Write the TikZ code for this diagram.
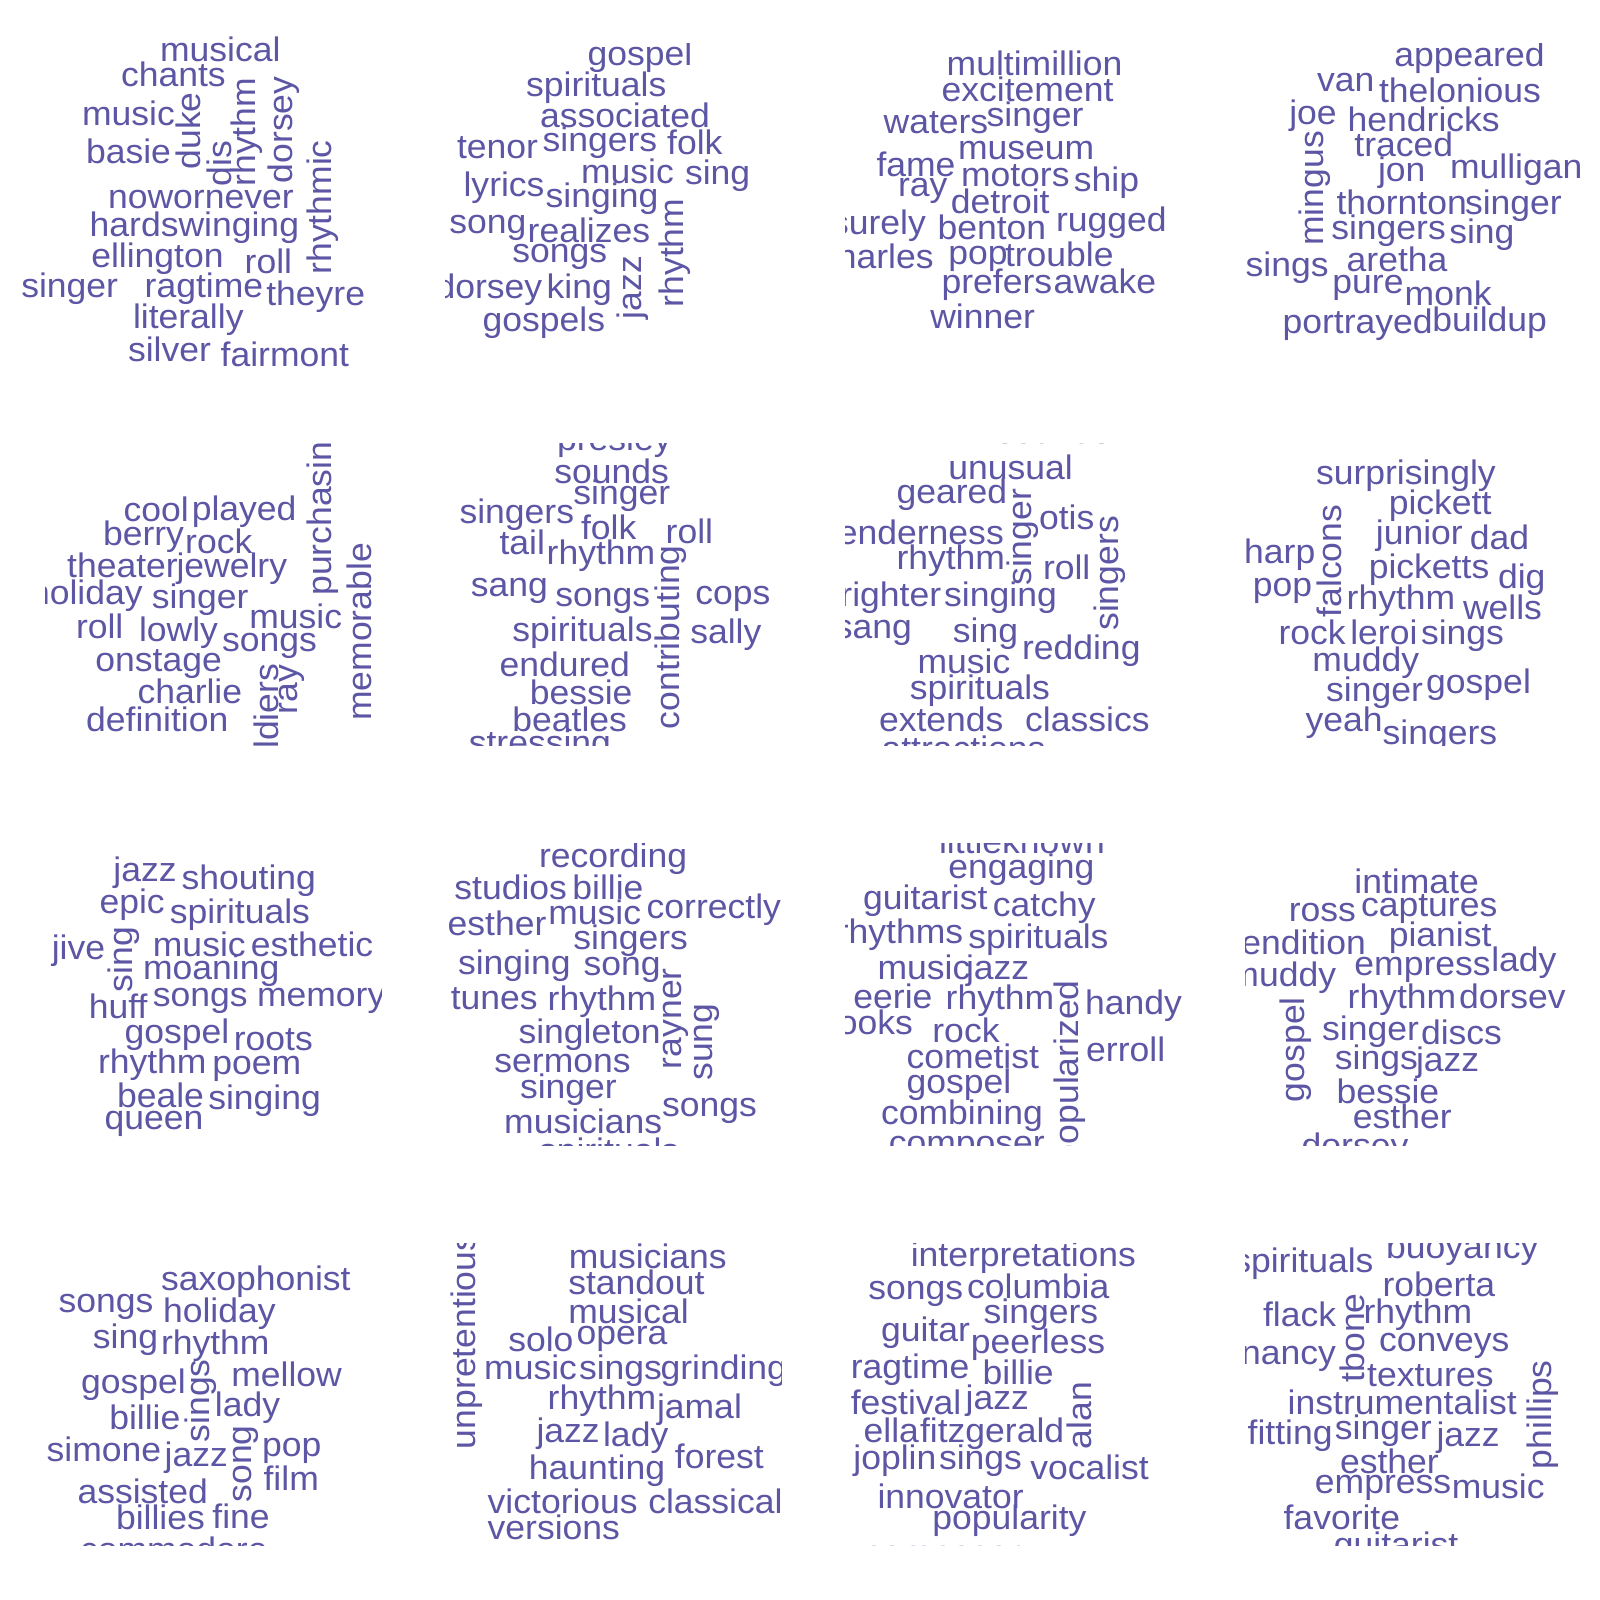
\documentclass[tikz,border=0pt]{standalone}
\usepackage{fontspec}
\setmainfont{Liberation Sans}
\newfontfamily\wcfam[FakeStretch=1.045]{Liberation Sans}
\definecolor{wc}{HTML}{5C56A4}
\newcommand\wcf{\wcfam\fontsize{34}{40}\selectfont}
\newcommand\WH[4]{\node[wh] (#1) at (#2-2,#3+3) {#4};}
\newcommand\WV[4]{\node[wv] (#1) at (#2,#3+4) {#4};}
\tikzset{
  wh/.style={anchor=base west, inner sep=0pt, outer sep=0pt, text=wc, font=\wcf},
  wv/.style={wh, rotate=90}
}
\begin{document}
\begin{tikzpicture}[x=1pt,y=-1pt]
\useasboundingbox (0,0) rectangle (1600,1600);
\fill[white] (0,0) rectangle (1600,1600);
% panel 1 (unclipped)
\WH{a1}{162}{58.2}{musical}
\WH{a2}{123}{83.2}{chants}
\WH{a3}{84}{122.5}{music}
\WH{a4}{88}{160.2}{basie}
\WV{a5}{200}{165.5}{duke}
\WV{a6}{231}{182.5}{dis}
\WV{a7}{255}{182.5}{rhythm}
\WV{a8}{292}{179.2}{dorsey}
\WV{a9}{331}{270.5}{rhythmic}
\WH{a10}{110}{205.8}{nowornever}
\WH{a11}{91.7}{233.2}{hardswinging}
\WH{a12}{93.3}{264.2}{ellington}
\WH{a13}{246.7}{270.2}{roll}
\WH{a14}{23.3}{294.2}{singer}
\WH{a15}{146.7}{294.2}{ragtime}
\WH{a16}{268.3}{302.5}{theyre}
\WH{a17}{135}{325.8}{literally}
\WH{a18}{130}{358.5}{silver}
\WH{a19}{222.7}{363.2}{fairmont}
% panel 2
\begin{scope}
\clip (445,43.3) rectangle (781,345);
\WH{b1}{589.7}{62.7}{gospel}
\WH{b2}{528.2}{94}{spirituals}
\WH{b3}{542}{125}{associated}
\WH{b4}{459}{155}{tenor}
\WH{b5}{544.6}{148.3}{singers}
\WH{b6}{669.2}{151.7}{folk}
\WH{b7}{583}{180}{music}
\WH{b8}{687}{181.7}{sing}
\WH{b9}{465.6}{193.3}{lyrics}
\WH{b10}{547.7}{204}{singing}
\WH{b11}{451.3}{230}{song}
\WH{b12}{529.7}{239.3}{realizes}
\WH{b13}{514.4}{259.3}{songs}
\WV{b14}{683}{303.3}{rhythm}
\WV{b15}{641}{315}{jazz}
\WH{b16}{437.5}{295}{dorsey}
\WH{b17}{548.7}{295}{king}
\WH{b18}{484.6}{328.3}{gospels}
\end{scope}
% panel 3
\begin{scope}
\clip (845,43.3) rectangle (1181,345);
\WH{c1}{948.7}{72.7}{multimillion}
\WH{c2}{943.6}{98.3}{excitement}
\WH{c3}{885.6}{130}{waters}
\WH{c4}{988.7}{123.3}{singer}
\WH{c5}{960}{156.7}{museum}
\WH{c6}{878.5}{173.3}{fame}
\WH{c7}{963}{183.3}{motors}
\WH{c8}{1075.9}{188.3}{ship}
\WH{c9}{900}{193.3}{ray}
\WH{c10}{952.8}{210}{detroit}
\WH{c11}{833}{231.7}{surely}
\WH{c12}{939.5}{236.7}{benton}
\WH{c13}{1058}{228.3}{rugged}
\WH{c14}{821}{265}{charles}
\WH{c15}{950.3}{261.7}{pop}
\WH{c16}{1007}{263.3}{trouble}
\WH{c17}{943.6}{290}{prefers}
\WH{c18}{1055.5}{290}{awake}
\WH{c19}{932.3}{325}{winner}
\end{scope}
% panel 4
\begin{scope}
\clip (1245,43.3) rectangle (1581,345);
\WH{d1}{1396.4}{63.3}{appeared}
\WH{d2}{1319}{88.3}{van}
\WH{d3}{1381}{100}{thelonious}
\WH{d4}{1291.3}{121.7}{joe}
\WH{d5}{1349.7}{128.3}{hendricks}
\WH{d6}{1356.4}{154}{traced}
\WH{d7}{1380}{178.3}{jon}
\WH{d8}{1452}{175}{mulligan}
\WV{d9}{1323}{241.7}{mingus}
\WH{d10}{1338.5}{211.7}{thornton}
\WH{d11}{1467}{211.7}{singer}
\WH{d12}{1333.3}{236.7}{singers}
\WH{d13}{1451.3}{240}{sing}
\WH{d14}{1247.7}{273.3}{sings}
\WH{d15}{1348.7}{268.3}{aretha}
\WH{d16}{1334.4}{290}{pure}
\WH{d17}{1406.7}{302.7}{monk}
\WH{d18}{1284.6}{330}{portrayed}
\WH{d19}{1434.4}{328.3}{buildup}
\end{scope}
% panel 5
\begin{scope}
\clip (45,443.3) rectangle (381,745);
\WH{e1}{125.6}{518.3}{cool}
\WH{e2}{193.8}{517.3}{played}
\WH{e3}{105}{542.3}{berry}
\WH{e4}{187.2}{550.7}{rock}
\WH{e5}{69.2}{574}{theater}
\WH{e6}{178.5}{574}{jewelry}
\WH{e7}{32}{601.7}{holiday}
\WH{e8}{153.8}{605}{singer}
\WV{e9}{331}{591.7}{purchasing}
\WH{e10}{251.3}{625}{music}
\WH{e11}{78}{635}{roll}
\WH{e12}{141}{638.3}{lowly}
\WH{e13}{224.1}{648.3}{songs}
\WV{e14}{371.5}{716.7}{memorable}
\WH{e15}{97.4}{668.3}{onstage}
\WH{e16}{139.5}{700}{charlie}
\WV{e17}{278}{782.2}{soldiers}
\WV{e18}{297}{710}{ray}
\WH{e19}{88.2}{728.3}{definition}
\end{scope}
% panel 6
\begin{scope}
\clip (445,443.3) rectangle (781,745);
\WH{f1}{559}{447}{presley}
\WH{f2}{556.4}{480}{sounds}
\WH{f3}{575.4}{501.7}{singer}
\WH{f4}{461.5}{520}{singers}
\WH{f5}{583}{536.7}{folk}
\WH{f6}{667.7}{540.7}{roll}
\WH{f7}{501.5}{551.7}{tail}
\WH{f8}{548.7}{561.7}{rhythm}
\WV{f9}{679.5}{725}{contributing}
\WH{f10}{472.8}{593.3}{sang}
\WH{f11}{557.4}{603.3}{songs}
\WH{f12}{697.4}{601.7}{cops}
\WH{f13}{514.4}{638.3}{spirituals}
\WH{f14}{692.3}{640}{sally}
\WH{f15}{501.5}{673.3}{endured}
\WH{f16}{531.8}{701.7}{bessie}
\WH{f17}{514.4}{728.3}{beatles}
\WH{f18}{470.8}{751}{stressing}
\end{scope}
% panel 7
\begin{scope}
\clip (845,443.3) rectangle (1181,745);
\WH{g0}{998}{440}{sounds}
\WH{g1}{950.3}{476}{unusual}
\WH{g2}{898.5}{500}{geared}
\WV{g3}{1031.7}{581.7}{singer}
\WH{g4}{1041}{526.7}{otis}
\WH{g5}{830}{541.7}{tenderness}
\WV{g6}{1118}{626.7}{singers}
\WH{g7}{1045}{576.7}{roll}
\WH{g8}{898.5}{566.7}{rhythm}
\WH{g9}{822.7}{603.3}{brighter}
\WH{g10}{946.2}{603.3}{singing}
\WH{g11}{836.8}{635}{sang}
\WH{g12}{954.9}{639.3}{sing}
\WH{g13}{1024}{656.7}{redding}
\WH{g14}{919.5}{670}{music}
\WH{g15}{911.8}{696}{spirituals}
\WH{g16}{881}{728.3}{extends}
\WH{g17}{1027.2}{728.3}{classics}
\WH{g18}{883.6}{757}{attractions}
\end{scope}
% panel 8
\begin{scope}
\clip (1245,443.3) rectangle (1581,745);
\WH{h1}{1318}{481.7}{surprisingly}
\WH{h2}{1390.8}{511.7}{pickett}
\WH{h3}{1377.9}{541.7}{junior}
\WH{h4}{1471.8}{546.7}{dad}
\WH{h5}{1246.2}{560}{harp}
\WV{h6}{1341}{613.3}{falcons}
\WH{h7}{1370.8}{575}{picketts}
\WH{h8}{1500}{585}{dig}
\WH{h9}{1254.9}{593.3}{pop}
\WH{h10}{1348.7}{606.7}{rhythm}
\WH{h11}{1465}{616.7}{wells}
\WH{h12}{1280.5}{641.7}{rock}
\WH{h13}{1352.3}{641.7}{leroi}
\WH{h14}{1423}{641.7}{sings}
\WH{h15}{1314.4}{668.3}{muddy}
\WH{h16}{1328.2}{698.3}{singer}
\WH{h17}{1428.2}{690}{gospel}
\WH{h18}{1307.7}{728.3}{yeah}
\WH{h19}{1384.6}{741.7}{singers}
\end{scope}
% panel 9
\begin{scope}
\clip (45,843.3) rectangle (381,1145);
\WH{i1}{115.4}{878.3}{jazz}
\WH{i2}{183.6}{886}{shouting}
\WH{i3}{101.5}{910}{epic}
\WH{i4}{171.8}{920}{spirituals}
\WH{i5}{53.8}{956.7}{jive}
\WV{i6}{132.5}{988.3}{sing}
\WH{i7}{154.9}{953.3}{music}
\WH{i8}{252.8}{953.3}{esthetic}
\WH{i9}{145.1}{976.7}{moaning}
\WH{i10}{90.8}{1015}{huff}
\WH{i11}{154.9}{1003.3}{songs}
\WH{i12}{259}{1003.3}{memory}
\WH{i13}{126.7}{1040}{gospel}
\WH{i14}{235.9}{1047.3}{roots}
\WH{i15}{100}{1070.7}{rhythm}
\WH{i16}{214.4}{1071.7}{poem}
\WH{i17}{119}{1104}{beale}
\WH{i18}{210.3}{1106}{singing}
\WH{i19}{106.7}{1126}{queen}
\end{scope}
% panel 10
\begin{scope}
\clip (445,843.3) rectangle (781,1145);
\WH{j1}{541}{864}{recording}
\WH{j2}{456.4}{896.7}{studios}
\WH{j3}{574.4}{896.7}{billie}
\WH{j4}{449.7}{932.7}{esther}
\WH{j5}{550.3}{921.7}{music}
\WH{j6}{648.7}{915}{correctly}
\WH{j7}{575.4}{946.7}{singers}
\WH{j8}{460}{971.7}{singing}
\WH{j9}{585.6}{972.7}{song}
\WH{j10}{452.8}{1006.7}{tunes}
\WH{j11}{549.7}{1007.3}{rhythm}
\WV{j12}{681}{1065}{rayner}
\WV{j13}{712}{1076.7}{sung}
\WH{j14}{520.5}{1040}{singleton}
\WH{j15}{496.4}{1069.3}{sermons}
\WH{j16}{522}{1095}{singer}
\WH{j17}{664.1}{1113.3}{songs}
\WH{j18}{506.2}{1130}{musicians}
\WH{j19}{541}{1159.7}{spirituals}
\end{scope}
% panel 11
\begin{scope}
\clip (845,843.3) rectangle (1181,1145);
\WH{k1}{941}{850}{littleknown}
\WH{k2}{950.3}{875}{engaging}
\WH{k3}{865.1}{906}{guitarist}
\WH{k4}{994.9}{913.3}{catchy}
\WH{k5}{838.8}{940}{rhythms}
\WH{k6}{970.3}{945}{spirituals}
\WH{k7}{879.5}{976.7}{music}
\WH{k8}{968}{976.7}{jazz}
\WH{k9}{855.4}{1005}{eerie}
\WH{k10}{947.7}{1006.7}{rhythm}
\WV{k11}{1078}{1160}{popularized}
\WH{k12}{1087.2}{1011.7}{handy}
\WH{k13}{820}{1031.7}{books}
\WH{k14}{934.4}{1039.3}{rock}
\WH{k15}{1088.2}{1058.3}{erroll}
\WH{k16}{908.7}{1065}{cometist}
\WH{k17}{908.7}{1090}{gospel}
\WH{k18}{883}{1121.7}{combining}
\WH{k19}{890.8}{1151}{composer}
\end{scope}
% panel 12
\begin{scope}
\clip (1245,843.3) rectangle (1581,1145);
\WH{l1}{1356.4}{890}{intimate}
\WH{l2}{1290.8}{918.3}{ross}
\WH{l3}{1363}{913.3}{captures}
\WH{l4}{1231.5}{951.7}{rendition}
\WH{l5}{1390.8}{943.3}{pianist}
\WH{l6}{1356.4}{972.7}{empress}
\WH{l7}{1493.3}{968.3}{lady}
\WH{l8}{1231.4}{983.3}{muddy}
\WH{l9}{1349.7}{1005}{rhythm}
\WH{l10}{1461}{1005}{dorsev}
\WV{l11}{1304.5}{1098}{gospel}
\WH{l12}{1324.1}{1037.5}{singer}
\WH{l13}{1423}{1041.7}{discs}
\WH{l14}{1336.9}{1066.7}{sings}
\WH{l15}{1418}{1068.3}{jazz}
\WH{l16}{1338.5}{1100.5}{bessie}
\WH{l17}{1354.9}{1125.5}{esther}
\WH{l18}{1303.7}{1154.6}{dorsey}
\end{scope}
% panel 13
\begin{scope}
\clip (45,1243.3) rectangle (381,1545);
\WH{m1}{163}{1287.3}{saxophonist}
\WH{m2}{60.5}{1309.3}{songs}
\WH{m3}{165.1}{1319.3}{holiday}
\WH{m4}{94.9}{1345}{sing}
\WH{m5}{163}{1351.7}{rhythm}
\WH{m6}{83}{1390}{gospel}
\WV{m7}{209}{1438.3}{sings}
\WH{m8}{233.3}{1383.3}{mellow}
\WH{m9}{216.9}{1413.3}{lady}
\WH{m10}{111.3}{1426.7}{billie}
\WH{m11}{48.7}{1458.3}{simone}
\WH{m12}{166.7}{1463.3}{jazz}
\WV{m13}{251}{1498.3}{song}
\WH{m14}{264.1}{1453.3}{pop}
\WH{m15}{265.6}{1487.3}{film}
\WH{m16}{79.5}{1500}{assisted}
\WH{m17}{118}{1526.7}{billies}
\WH{m18}{214.4}{1525}{fine}
\WH{m19}{82}{1558}{commodore}
\end{scope}
% panel 14
\begin{scope}
\clip (445,1243.3) rectangle (781,1545);
\WV{n1}{475}{1445}{unpretentious}
\WH{n2}{570.8}{1265}{musicians}
\WH{n3}{570.3}{1291.7}{standout}
\WH{n4}{570.3}{1320.7}{musical}
\WH{n5}{510.3}{1348.3}{solo}
\WH{n6}{578.5}{1341.7}{opera}
\WH{n7}{486.2}{1376}{music}
\WH{n8}{581}{1376}{sings}
\WH{n9}{662.6}{1376}{grinding}
\WH{n10}{549.7}{1406}{rhythm}
\WH{n11}{659}{1415}{jamal}
\WH{n12}{538.5}{1439.3}{jazz}
\WH{n13}{605.1}{1443.3}{lady}
\WH{n14}{676.9}{1465}{forest}
\WH{n15}{530.8}{1476}{haunting}
\WH{n16}{489.7}{1510}{victorious}
\WH{n17}{650.3}{1510}{classical}
\WH{n18}{489.7}{1536.7}{versions}
\end{scope}
% panel 15
\begin{scope}
\clip (845,1243.3) rectangle (1181,1545);
\WH{o1}{912.8}{1263.3}{interpretations}
\WH{o2}{870.3}{1296.7}{songs}
\WH{o3}{969.2}{1295}{columbia}
\WH{o4}{985.6}{1320}{singers}
\WH{o5}{883}{1338.3}{guitar}
\WH{o6}{972.8}{1350}{peerless}
\WH{o7}{852.8}{1375}{ragtime}
\WH{o8}{984.6}{1381.7}{billie}
\WH{o9}{852.8}{1411.7}{festival}
\WH{o10}{967.7}{1406.7}{jazz}
\WV{o11}{1091}{1445}{alan}
\WH{o12}{865.6}{1439.3}{ella}
\WH{o13}{922}{1439.3}{fitzgerald}
\WH{o14}{855.4}{1466.7}{joplin}
\WH{o15}{941}{1466.7}{sings}
\WH{o16}{1032.3}{1476.7}{vocalist}
\WH{o17}{879.5}{1505}{innovator}
\WH{o18}{934.4}{1526.7}{popularity}
\WH{o19}{866.7}{1561}{composer}
\end{scope}
% panel 16
\begin{scope}
\clip (1245,1243.3) rectangle (1581,1545);
\WH{q1}{1235.3}{1269.3}{spirituals}
\WH{q2}{1388.2}{1255}{buoyancy}
\WH{q3}{1384.6}{1293.3}{roberta}
\WH{q4}{1265.1}{1323.3}{flack}
\WV{q5}{1364}{1378.3}{tbone}
\WH{q6}{1365.6}{1320.7}{rhythm}
\WH{q7}{1243.2}{1361.7}{nancy}
\WH{q8}{1381}{1348.3}{conveys}
\WH{q9}{1369.2}{1383.3}{textures}
\WV{q10}{1551}{1465}{phillips}
\WH{q11}{1289.7}{1411.7}{instrumentalist}
\WH{q12}{1249.7}{1441.7}{fitting}
\WH{q13}{1336.9}{1436.7}{singer}
\WH{q14}{1438.5}{1443.3}{jazz}
\WH{q15}{1342}{1470}{esther}
\WH{q16}{1316.9}{1490}{empress}
\WH{q17}{1453.8}{1495}{music}
\WH{q18}{1285.6}{1526.7}{favorite}
\WH{q19}{1335.9}{1553}{guitarist}
\end{scope}
\end{tikzpicture}
\end{document}
